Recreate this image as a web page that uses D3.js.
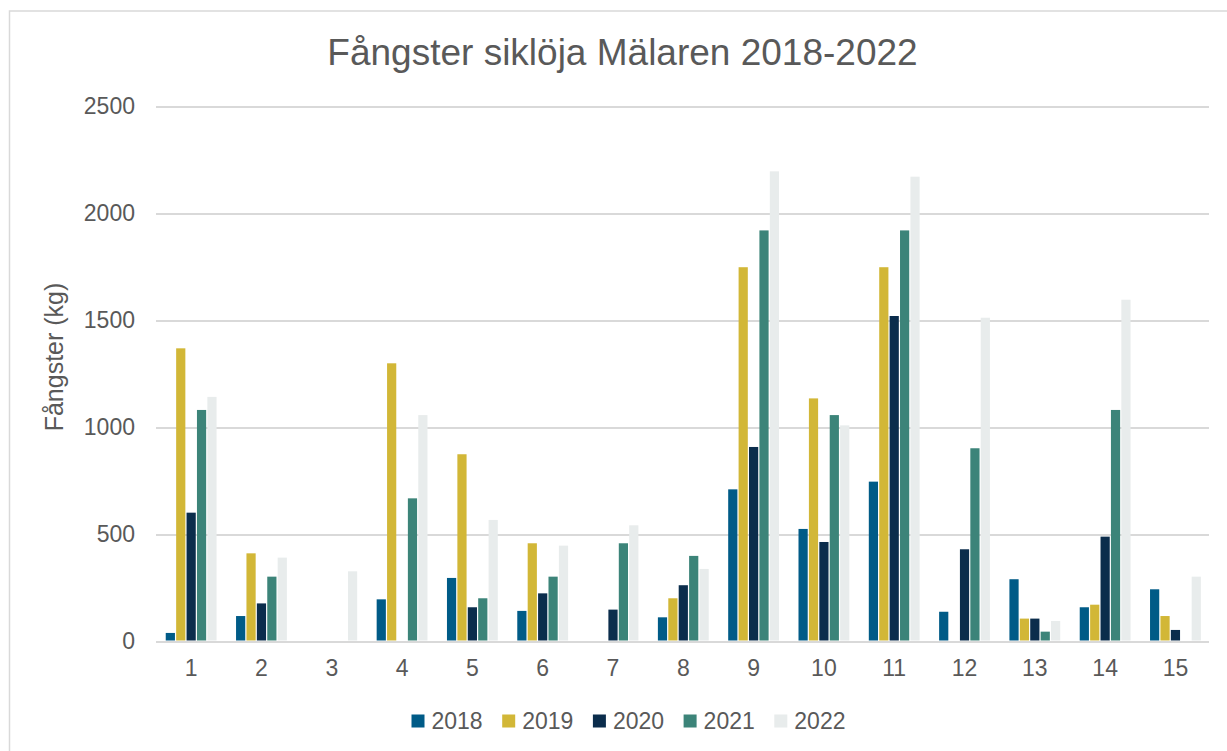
<!DOCTYPE html>
<html>
<head>
<meta charset="utf-8">
<script src="https://cdn.jsdelivr.net/npm/d3@7"></script>
<style>
  body { margin: 0; background: #fff; }
  text { font-family: "Liberation Sans", Arial, sans-serif; fill: #595959; }
</style>
</head>
<body>
<div id="chart"></div>
<script>
// data
const areas = ["1","2","3","4","5","6","7","8","9","10","11","12","13","14","15"];
const years = ["2018","2019","2020","2021","2022"];
const v2018 = [40, 119, 0, 197, 297, 143, 0, 113, 711, 526, 747, 139, 291, 160, 244];
const v2019 = [1370, 412, 0, 1300, 875, 459, 0, 202, 1749, 1136, 1749, 0, 107, 172, 119];
const v2020 = [602, 178, 0, 0, 160, 225, 149, 263, 909, 465, 1521, 431, 107, 490, 54];
const v2021 = [1082, 303, 0, 669, 202, 303, 459, 400, 1921, 1058, 1921, 903, 46, 1082, 0];
const v2022 = [1143, 392, 328, 1058, 568, 448, 543, 339, 2197, 1010, 2172, 1513, 96, 1597, 303];
const yTicks = [0, 500, 1000, 1500, 2000, 2500];
const colors = ["#005b87", "#d2b737", "#0b2d4c", "#3c8479", "#e8ecec"];

const series = [v2018, v2019, v2020, v2021, v2022];

const W = 1227, H = 751;
const margin = {top: 107, right: 17, bottom: 110, left: 156};

const svg = d3.select("#chart").append("svg")
  .attr("width", W)
  .attr("height", H);

// outer frame
svg.append("rect")
  .attr("x", 9.5).attr("y", 11)
  .attr("width", W + 10).attr("height", H + 10)
  .attr("fill", "none")
  .attr("stroke", "#d9d9d9")
  .attr("stroke-width", 1.5);

const x = d3.scaleBand()
  .domain(areas)
  .range([margin.left, W - margin.right + 0.6])
  .paddingInner(0.26)
  .paddingOuter(0.13);

const xInner = d3.scaleBand()
  .domain(years)
  .range([0, x.bandwidth()]);

const y = d3.scaleLinear()
  .domain([0, 2500])
  .range([641.5, 106.5]);

// gridlines + y labels
const yAxis = svg.append("g")
  .attr("transform", `translate(${margin.left},0)`)
  .call(d3.axisLeft(y).tickValues(yTicks).tickSize(-(1209 - margin.left)).tickPadding(21).tickFormat(d3.format("d")));
yAxis.select(".domain").remove();
yAxis.selectAll("line").attr("stroke", "#d9d9d9").attr("stroke-width", 2);
yAxis.selectAll("text").style("font-size", "23px").attr("fill", "#595959");

// bars
const groups = svg.append("g")
  .selectAll("g")
  .data(series)
  .join("g")
    .attr("fill", (d, i) => colors[i]);

groups.selectAll("rect")
  .data((d, i) => d.map((v, j) => ({area: areas[j], year: years[i], value: v})))
  .join("rect")
    .filter(d => d.value > 0)
    .attr("x", d => x(d.area) + xInner(d.year) + 0.6)
    .attr("width", xInner.bandwidth() - 1.2)
    .attr("y", d => y(d.value))
    .attr("height", d => y(0) - y(d.value) - 1);

// x labels
const xAxis = svg.append("g")
  .attr("transform", `translate(0,${y(0)})`)
  .call(d3.axisBottom(x).tickSize(0).tickPadding(18));
xAxis.select(".domain").remove();
xAxis.selectAll("text").style("font-size", "23px").attr("fill", "#595959");

// title
svg.append("text")
  .attr("x", 622.5).attr("y", 65)
  .attr("text-anchor", "middle")
  .style("font-size", "37px")
  .text("Fångster siklöja Mälaren 2018-2022");

// y axis title
svg.append("text")
  .attr("transform", "translate(63,357) rotate(-90)")
  .attr("text-anchor", "middle")
  .style("font-size", "25px")
  .text("Fångster (kg)");

// legend
const legend = svg.append("g")
  .selectAll("g")
  .data(years)
  .join("g")
    .attr("transform", (d, i) => `translate(${411.5 + i * 90.7},721)`);
legend.append("rect")
  .attr("x", 0).attr("y", -6.5)
  .attr("width", 13).attr("height", 13)
  .attr("fill", (d, i) => colors[i]);
legend.append("text")
  .attr("x", 20).attr("y", 8)
  .style("font-size", "23px")
  .text(d => d);
</script>
</body>
</html>
